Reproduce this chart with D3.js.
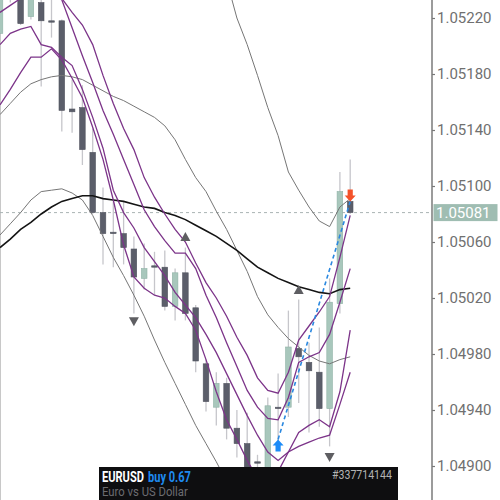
<!DOCTYPE html>
<html><head><meta charset="utf-8">
<script src="https://cdn.jsdelivr.net/npm/d3@7"></script>
<style>html,body{margin:0;padding:0;background:#fff;overflow:hidden}</style>
</head><body><svg id="c" width="500" height="500"></svg>
<script>
// ---- candles (EURUSD) ----
const opens  = [1.05209,1.05261,1.05239,1.05221,1.05231,1.05218,1.05218,1.05155,1.05156,1.05124,1.05081,1.05067,1.05066,1.05055,1.05034,1.05043,1.05042,1.05014,1.05038,1.05013,1.04973,1.04942,1.04959,1.04927,1.04916,1.04903,1.04891,1.04942,1.04942,1.04984,1.04974,1.04967,1.04941,1.05016,1.05089];
const highs  = [1.05244,1.05265,1.05241,1.05239,1.05233,1.05234,1.05219,1.05176,1.05172,1.05141,1.05099,1.05089,1.05089,1.05064,1.05059,1.05053,1.05054,1.05041,1.05056,1.05015,1.04976,1.04967,1.04963,1.04940,1.04938,1.04908,1.04949,1.04966,1.05011,1.05019,1.04988,1.04999,1.05034,1.05110,1.05119];
const lows   = [1.05207,1.05231,1.05215,1.05219,1.05171,1.05206,1.05139,1.05138,1.05115,1.05080,1.05044,1.05042,1.05044,1.05009,1.05026,1.05022,1.05011,1.05004,1.05004,1.04967,1.04939,1.04929,1.04919,1.04906,1.04890,1.04894,1.04886,1.04914,1.04935,1.04945,1.04924,1.04928,1.04914,1.05009,1.05080];
const closes = [1.05240,1.05244,1.05216,1.05235,1.05218,1.05217,1.05154,1.05153,1.05126,1.05081,1.05066,1.05066,1.05056,1.05035,1.05041,1.05042,1.05014,1.05038,1.05009,1.04975,1.04946,1.04959,1.04927,1.04916,1.04897,1.04902,1.04943,1.04941,1.04985,1.04978,1.04968,1.04941,1.05017,1.05096,1.05081];

// ---- indicators ----
const bbUpper  = [1.05238,1.05244,1.05250,1.05254,1.05257,1.05260,1.05261,1.05261,1.05263,1.05265,1.05271,1.05277,1.05287,1.05291,1.05299,1.05306,1.05311,1.05308,1.05294,1.05284,1.05276,1.05262,1.05247,1.05220,1.05201,1.05179,1.05156,1.05136,1.05110,1.05097,1.05085,1.05075,1.05071,1.05085,1.05091];
const bbMiddle = [1.05151,1.05159,1.05167,1.05173,1.05176,1.05178,1.05179,1.05178,1.05176,1.05172,1.05168,1.05164,1.05161,1.05157,1.05153,1.05149,1.05143,1.05133,1.05119,1.05106,1.05096,1.05082,1.05069,1.05054,1.05039,1.05021,1.05008,1.04999,1.04991,1.04985,1.04979,1.04975,1.04973,1.04976,1.04978];
const bbLower  = [1.05065,1.05073,1.05081,1.05090,1.05096,1.05097,1.05098,1.05095,1.05090,1.05079,1.05064,1.05049,1.05036,1.05022,1.05007,1.04990,1.04974,1.04959,1.04944,1.04929,1.04916,1.04903,1.04889,1.04872,1.04854,1.04840,1.04833,1.04833,1.04840,1.04844,1.04851,1.04858,1.04869,1.04867,1.04866];
const maSlow   = [1.05056,1.05062,1.05069,1.05074,1.05080,1.05085,1.05089,1.05091,1.05093,1.05093,1.05091,1.05090,1.05089,1.05087,1.05085,1.05084,1.05081,1.05079,1.05076,1.05072,1.05068,1.05064,1.05059,1.05054,1.05048,1.05042,1.05038,1.05034,1.05031,1.05028,1.05026,1.05024,1.05023,1.05026,1.05027];
const maA = [1.05254,1.05256,1.05258,1.05258,1.05254,1.05247,1.05234,1.05224,1.05215,1.05201,1.05179,1.05159,1.05141,1.05126,1.05106,1.05092,1.05080,1.05069,1.05060,1.05045,1.05031,1.05020,1.05007,1.04992,1.04979,1.04963,1.04954,1.04952,1.04967,1.04990,1.05000,1.05010,1.05021,1.05049,1.05079];
const maB = [1.05224,1.05229,1.05234,1.05239,1.05240,1.05238,1.05233,1.05213,1.05193,1.05174,1.05154,1.05137,1.05119,1.05101,1.05083,1.05071,1.05061,1.05052,1.05052,1.05041,1.05022,1.05006,1.04988,1.04971,1.04954,1.04942,1.04934,1.04933,1.04949,1.04974,1.04978,1.04981,1.04994,1.05017,1.05041];
const maC = [1.05201,1.05209,1.05212,1.05214,1.05201,1.05199,1.05192,1.05186,1.05169,1.05149,1.05127,1.05097,1.05081,1.05070,1.05056,1.05046,1.05036,1.05024,1.05015,1.05006,1.04994,1.04981,1.04966,1.04951,1.04936,1.04922,1.04910,1.04904,1.04910,1.04924,1.04929,1.04933,1.04928,1.04953,1.04997];
const maD = [1.05158,1.05169,1.05181,1.05192,1.05192,1.05198,1.05190,1.05177,1.05163,1.05142,1.05119,1.05090,1.05058,1.05035,1.05027,1.05022,1.05020,1.05014,1.05009,1.04997,1.04976,1.04953,1.04933,1.04919,1.04904,1.04891,1.04886,1.04896,1.04910,1.04914,1.04917,1.04920,1.04922,1.04944,1.04967];

// ---- signals / trade ----
const upSignalIdx = [18, 29];
const upSignalPrice = [1.05064, 1.05026];
const downSignalIdx = [13, 32];
const downSignalPrice = [1.05003, 1.04906];
const tradeIdx = [27, 34];
const tradePrice = [1.04919, 1.05089];

// ---- axis / labels ----
const yTicks = [1.04900,1.04940,1.04980,1.05020,1.05060,1.05100,1.05140,1.05180,1.05220];
const lastPrice = 1.05081;
const symbol = "EURUSD", side = "buy 0.67", ticket = "#337714144", description = "Euro vs US Dollar";

const svg = d3.select("#c");
const n = opens.length;
const x = d3.scaleLinear().domain([0, n - 1]).range([0, 350.2]);
const y = d3.scaleLinear().domain([1.049, 1.0524]).range([466, -10]);
const axisX = 432;

const candles = d3.range(n).map(i => ({i, o: opens[i], h: highs[i], l: lows[i], c: closes[i]}));

const plot = svg.append("g");

// left border
plot.append("line").attr("x1", 0.5).attr("x2", 0.5).attr("y1", 0).attr("y2", 500)
  .attr("stroke", "#c8c8c8").attr("stroke-width", 1);

// last price dashed line
plot.append("line").attr("x1", 0).attr("x2", axisX).attr("y1", y(lastPrice)).attr("y2", y(lastPrice))
  .attr("stroke", "#a9b3b3").attr("stroke-width", 1).attr("stroke-dasharray", "3,3");

// wicks
plot.selectAll(".wick").data(candles).join("line")
  .attr("x1", d => x(d.i)).attr("x2", d => x(d.i))
  .attr("y1", d => y(d.h)).attr("y2", d => y(d.l))
  .attr("stroke", "#c6c6cb").attr("stroke-width", 1.3);

// bodies
plot.selectAll(".body").data(candles).join("rect")
  .attr("x", d => x(d.i) - 2.8).attr("width", 5.6)
  .attr("y", d => y(Math.max(d.o, d.c)))
  .attr("height", d => Math.max(1.2, Math.abs(y(d.o) - y(d.c))))
  .attr("fill", d => d.c > d.o ? "#a8c7bc" : "#5b5e6a")
  .attr("stroke", d => d.c > d.o ? "#8fb2a6" : "#51545f")
  .attr("stroke-width", 0.6);

const line = d3.line().x((d, i) => x(i)).y(d => y(d));

[bbUpper, bbMiddle, bbLower].forEach(arr => {
  plot.append("path").attr("d", line(arr)).attr("fill", "none").attr("stroke", "#767676").attr("stroke-width", 1);
});
plot.append("path").attr("d", line(maSlow)).attr("fill", "none").attr("stroke", "#141414").attr("stroke-width", 1.6);
[maA, maB, maC, maD].forEach(arr => {
  plot.append("path").attr("d", line(arr)).attr("fill", "none").attr("stroke", "#7c3489").attr("stroke-width", 1.3);
});

// gray signal triangles
upSignalIdx.forEach((ix, k) => {
  const cx = x(ix), cy = y(upSignalPrice[k]);
  plot.append("path").attr("d", `M${cx-5},${cy+4.5}L${cx+5},${cy+4.5}L${cx},${cy-4.5}Z`).attr("fill", "#5e5e62");
});
downSignalIdx.forEach((ix, k) => {
  const cx = x(ix), cy = y(downSignalPrice[k]);
  plot.append("path").attr("d", `M${cx-5},${cy-4.5}L${cx+5},${cy-4.5}L${cx},${cy+4.5}Z`).attr("fill", "#5e5e62");
});

// trade line and arrows
plot.append("line")
  .attr("x1", x(tradeIdx[0])).attr("y1", y(tradePrice[0]))
  .attr("x2", x(tradeIdx[1])).attr("y2", y(tradePrice[1]))
  .attr("stroke", "#2a88e0").attr("stroke-width", 1.6).attr("stroke-dasharray", "4,3");
{
  const cx = x(tradeIdx[0]), ty = y(tradePrice[0]);
  plot.append("path")
    .attr("d", `M${cx},${ty}L${cx+5.5},${ty+6}L${cx+2.6},${ty+6}L${cx+2.6},${ty+12}L${cx-2.6},${ty+12}L${cx-2.6},${ty+6}L${cx-5.5},${ty+6}Z`)
    .attr("fill", "#1d8cf8");
  const cx2 = x(tradeIdx[1]), by = y(tradePrice[1]);
  plot.append("path")
    .attr("d", `M${cx2},${by}L${cx2+5.5},${by-6}L${cx2+2.6},${by-6}L${cx2+2.6},${by-12}L${cx2-2.6},${by-12}L${cx2-2.6},${by-6}L${cx2-5.5},${by-6}Z`)
    .attr("fill", "#f4522a");
}

// axis
const ax = svg.append("g").attr("transform", `translate(${axisX},0)`)
  .call(d3.axisRight(y).tickValues(yTicks).tickSize(3).tickPadding(2).tickFormat(d3.format(".5f")));
ax.select(".domain").remove();
ax.selectAll(".tick line").attr("stroke", "#777").attr("stroke-width", 1.2);
ax.selectAll(".tick text").attr("fill", "#707070").style("font-family", "Roboto, 'Liberation Sans', sans-serif").style("font-size", "15px");
svg.append("line").attr("x1", axisX).attr("x2", axisX).attr("y1", 0).attr("y2", 500)
  .attr("stroke", "#7a7a7a").attr("stroke-width", 1.5);

// last price tag
svg.append("rect").attr("x", axisX + 1.5).attr("y", y(lastPrice) - 8.5).attr("width", 64).attr("height", 17).attr("fill", "#9fbdb2");
svg.append("text").attr("x", axisX + 4).attr("y", y(lastPrice)).attr("dy", "0.35em")
  .attr("fill", "#ffffff").style("font-family", "Roboto, 'Liberation Sans', sans-serif").style("font-size", "15px")
  .text(d3.format(".5f")(lastPrice));

// bottom label (texts condensed horizontally to fit their measured widths)
const lab = svg.append("g");
lab.append("rect").attr("x", 99).attr("y", 467).attr("width", 299).attr("height", 40).attr("fill", "#0e0e10");
function condensed(txt, x0, y0, width, anchorEnd, size, weight, fill) {
  const t = lab.append("text").attr("x", 0).attr("y", 0).attr("fill", fill)
    .style("font-family", "Roboto, sans-serif").style("font-weight", weight).style("font-size", size + "px")
    .text(txt);
  const w = t.node().getComputedTextLength();
  const s = width / w;
  const left = anchorEnd ? x0 - width : x0;
  t.attr("transform", `translate(${left},${y0}) scale(${s},1)`);
}
condensed(symbol, 102, 482, 42, false, 14, "bold", "#ffffff");
condensed(side, 148, 482, 43, false, 14, "bold", "#1f8bf0");
condensed(ticket, 392, 479, 60, true, 12, "normal", "#b3b3b3");
condensed(description, 102, 496, 86, false, 12.5, "normal", "#6c6c70");
</script></body></html>
